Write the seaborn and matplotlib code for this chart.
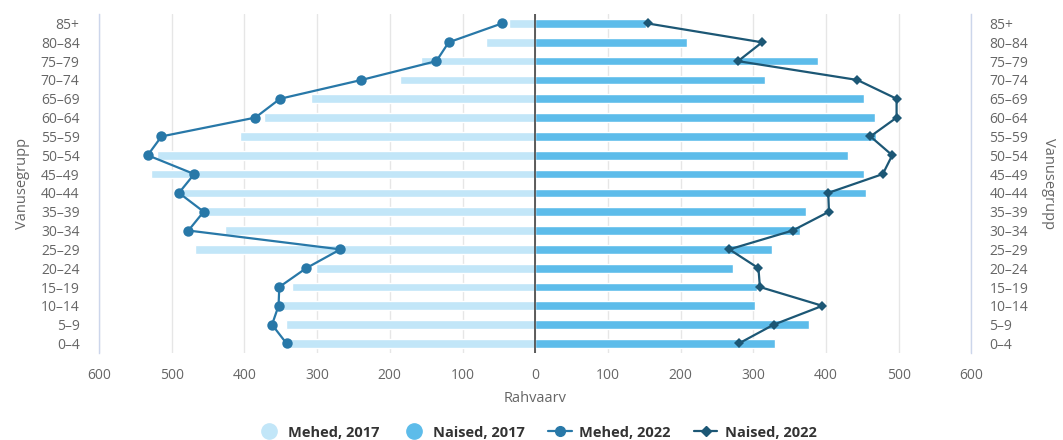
import numpy as np
import pandas as pd
import matplotlib
matplotlib.use("Agg")
import matplotlib.pyplot as plt
from matplotlib.lines import Line2D
from matplotlib.ticker import FuncFormatter
import seaborn as sns

age_groups = ["85+", "80–84", "75–79", "70–74", "65–69", "60–64", "55–59", "50–54",
              "45–49", "40–44", "35–39", "30–34", "25–29", "20–24", "15–19", "10–14",
              "5–9", "0–4"]
men_2017 = [36, 68, 157, 186, 309, 373, 406, 520, 528, 485, 452, 427, 468, 301, 334, 350, 343, 340]
women_2017 = [152, 209, 389, 316, 452, 467, 469, 430, 452, 455, 372, 364, 325, 272, 305, 302, 376, 330]
men_2022 = [46, 119, 136, 239, 351, 385, 514, 533, 469, 490, 456, 477, 268, 315, 352, 353, 362, 342]
women_2022 = [155, 312, 279, 443, 497, 497, 461, 491, 478, 403, 404, 354, 267, 307, 309, 395, 328, 280]
x_ticks = [-600, -500, -400, -300, -200, -100, 0, 100, 200, 300, 400, 500, 600]

sns.set_theme(style="white")
plt.rcParams['font.family'] = ['Open Sans', 'DejaVu Sans']

c_m17 = "#c2e6f8"
c_w17 = "#5dbcea"
c_m22 = "#2878a8"
c_w22 = "#1c5775"
axis_c = "#ccd6eb"
txt_c = "#666666"

fig = plt.figure(figsize=(10.63, 4.4), dpi=100)
ax = fig.add_axes([0.0931, 0.198, 0.8208, 0.770])

df = pd.DataFrame({"grp": age_groups,
                   "m17": -np.array(men_2017), "w17": women_2017,
                   "m22": -np.array(men_2022), "w22": women_2022})
df["pos"] = np.arange(len(age_groups))

sns.barplot(data=df, x="m17", y="grp", orient="h", color=c_m17, saturation=1,
            width=0.46, ax=ax, zorder=2)
sns.barplot(data=df, x="w17", y="grp", orient="h", color=c_w17, saturation=1,
            width=0.46, ax=ax, zorder=2)
sns.lineplot(data=df, x="m22", y="pos", sort=False, orient="y", color=c_m22, lw=1.6,
             marker="o", markersize=7.5, markeredgewidth=0, ax=ax, zorder=4)
sns.lineplot(data=df, x="w22", y="pos", sort=False, orient="y", color=c_w22, lw=1.6,
             marker="D", markersize=5.5, markeredgewidth=0, ax=ax, zorder=4)

n = len(age_groups)
ax.set_xlim(-600, 600)
ax.set_ylim(n - 0.5, -0.5)
ax.set_xticks(x_ticks)
ax.xaxis.set_major_formatter(FuncFormatter(lambda v, p: f"{abs(int(v))}"))
ax.set_yticks(range(n))
ax.set_yticklabels(age_groups)
ax.grid(axis="x", color="#e6e6e6", lw=1, zorder=0)
ax.grid(axis="y", visible=False)
ax.axvline(0, color="#333333", lw=1.1, zorder=5)

for s in ["top", "bottom"]:
    ax.spines[s].set_visible(False)
for s in ["left", "right"]:
    ax.spines[s].set_color(axis_c)
    ax.spines[s].set_linewidth(1)

ax.tick_params(axis="y", length=0, pad=14, labelsize=10, labelcolor=txt_c)
ax.tick_params(axis="x", length=0, pad=11, labelsize=10, labelcolor=txt_c)
ax.set_xlabel("Rahvaarv", fontsize=10.5, color=txt_c, labelpad=6)
ax.set_ylabel("Vanusegrupp", fontsize=10.5, color=txt_c, labelpad=8)

ax2 = ax.twinx()
ax2.set_ylim(ax.get_ylim())
ax2.set_yticks(range(n))
ax2.set_yticklabels(age_groups)
ax2.tick_params(axis="y", length=0, pad=13, labelsize=10, labelcolor=txt_c)
ax2.set_ylabel("Vanusegrupp", fontsize=10.5, color=txt_c, rotation=270, labelpad=20)
for s in ax2.spines.values():
    s.set_visible(False)
ax2.grid(False)

handles = [
    Line2D([], [], ls="none", marker="o", markersize=11, color=c_m17),
    Line2D([], [], ls="none", marker="o", markersize=11, color=c_w17),
    Line2D([], [], color=c_m22, lw=1.6, marker="o", markersize=7),
    Line2D([], [], color=c_w22, lw=1.6, marker="D", markersize=5.5),
]
labels = ["Mehed, 2017", "Naised, 2017", "Mehed, 2022", "Naised, 2022"]
leg = fig.legend(handles, labels, loc="center", bbox_to_anchor=(0.505, 0.017), ncol=4,
                 frameon=False, fontsize=10.5, handlelength=1.6, columnspacing=1.6,
                 handletextpad=0.5)
for t in leg.get_texts():
    t.set_fontweight("bold")
    t.set_color("#333333")

fig.savefig("out.png", dpi=100)
